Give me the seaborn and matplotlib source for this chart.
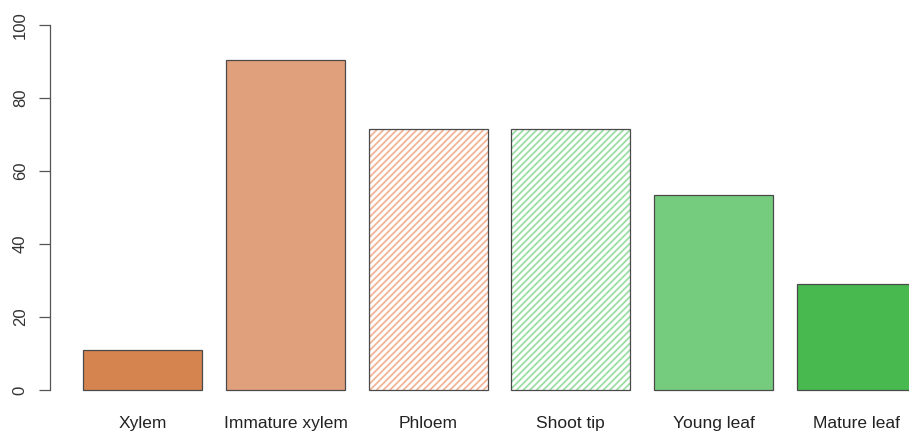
import numpy as np
import pandas as pd
import matplotlib
matplotlib.use("Agg")
import matplotlib.pyplot as plt
import seaborn as sns

# data
tissues = ["Xylem", "Immature xylem", "Phloem", "Shoot tip", "Young leaf", "Mature leaf"]
values = [11, 90.5, 71.5, 71.5, 53.5, 29]
fill_colors = ["#d6844f", "#e0a07c", "#ffffff", "#ffffff", "#76cc7e", "#47b94f"]
hatch_colors = [None, None, "#f3b497", "#9cdea6", None, None]
y_ticks = [0, 20, 40, 60, 80, 100]

sns.set_style("white")
plt.rcParams['font.family'] = ['Liberation Sans', 'DejaVu Sans']
plt.rcParams['hatch.linewidth'] = 1.3

df = pd.DataFrame({"tissue": tissues, "value": values})

fig = plt.figure(figsize=(9.09, 4.36), dpi=100)
ax = fig.add_axes([50 / 909, 31.4 / 436, 899 / 909, 394.2 / 436])

sns.barplot(data=df, x="tissue", y="value", hue="tissue", palette=fill_colors,
            width=1 / 1.2, saturation=1, legend=False, ax=ax,
            edgecolor="#4a4a4a", linewidth=0.9)

# hatched bars: stripes in their own colour, outline redrawn on top
for patch, hc in zip(ax.patches, hatch_colors):
    if hc is not None:
        patch.set_edgecolor(hc)
        patch.set_hatch("/////")
        patch.set_linewidth(0)
        ax.add_patch(plt.Rectangle((patch.get_x(), patch.get_y()), patch.get_width(),
                                   patch.get_height(), fill=False,
                                   edgecolor="#4a4a4a", linewidth=0.9, zorder=3))

ax.set_xlim(-0.65, 5.65)
ax.set_ylim(-4, 104)
ax.set_xlabel("")
ax.set_ylabel("")

for s in ["top", "right", "bottom"]:
    ax.spines[s].set_visible(False)
ax.spines["left"].set_color("#555555")
ax.spines["left"].set_linewidth(0.9)
ax.spines["left"].set_bounds(0, 100)

ax.set_yticks(y_ticks)
ax.set_yticklabels([str(t) for t in y_ticks], rotation=90, va="center")
ax.tick_params(axis="y", length=8, width=0.9, color="#555555", pad=8,
               labelsize=12, labelcolor="#333333", left=True)
ax.tick_params(axis="x", length=0, pad=8.5, labelsize=12.5, labelcolor="#222222")

fig.savefig("out.png", dpi=100)
